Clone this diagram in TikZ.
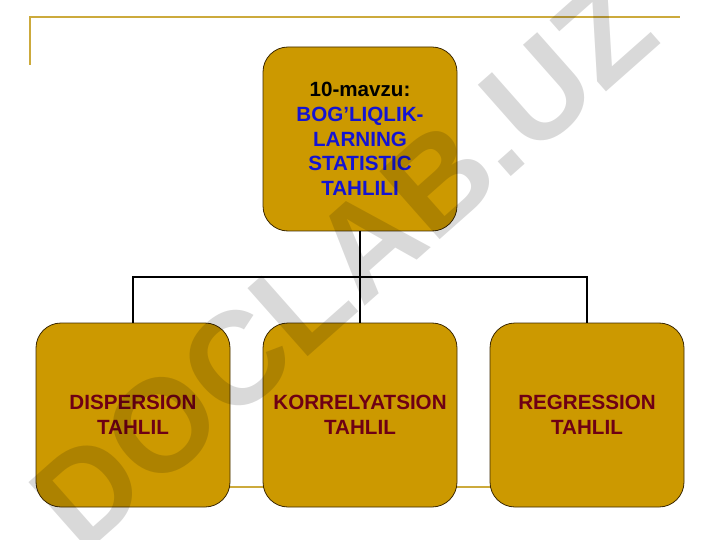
\documentclass[tikz,border=0pt]{standalone}
\usepackage{fontspec}
\setmainfont{Liberation Sans}
\definecolor{zoloto}{RGB}{204,153,0}
\definecolor{liniya}{RGB}{204,170,60}
\definecolor{ramka}{RGB}{60,40,0}
\definecolor{siniy}{RGB}{20,20,210}
\definecolor{bordo}{RGB}{110,0,20}

\begin{document}
\begin{tikzpicture}[x=1pt, y=-1pt,
    blok/.style={draw=ramka, fill=zoloto, line width=0.8pt, rounded corners=25pt,
        minimum width=194pt, minimum height=184pt, align=center,
        font=\fontsize{20.6}{24.7}\selectfont\bfseries},
    svyaz/.style={black, line width=1.8pt}]
            \useasboundingbox (0,0) rectangle (720,540);

            \draw[liniya, line width=1.5pt] (30,65) -- (30,17) -- (680,17);
            \draw[liniya, line width=1.5pt] (133,487) -- (587,487);

            \node[blok] (mavzu) at (360,139) {10-mavzu:\\\textcolor{siniy}{BOG’LIQLIK-}\\\textcolor{siniy}{LARNING}\\\textcolor{siniy}{STATISTIC}\\\textcolor{siniy}{TAHLILI}};
            \node[blok, text=bordo] (disp) at (133,415) {DISPERSION\\TAHLIL};
            \node[blok, text=bordo] (korr) at (360,415) {KORRELYATSION\\TAHLIL};
            \node[blok, text=bordo] (regr) at (587,415) {REGRESSION\\TAHLIL};

            \coordinate (uzel) at (360,277);
            \draw[svyaz] (mavzu.south) -- (uzel);
            \draw[svyaz] (uzel) -| (disp.north);
            \draw[svyaz] (uzel) -- (korr.north);
            \draw[svyaz] (uzel) -| (regr.north);

            \node[black, opacity=0.15, rotate=41.5, font=\fontsize{132}{132}\selectfont\bfseries] (znak) at (343,265) {DOCLAB.UZ};
        \end{tikzpicture}
\end{document}
